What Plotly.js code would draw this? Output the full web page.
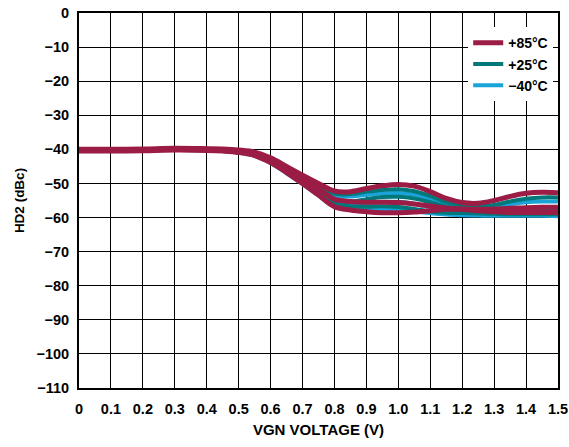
<!DOCTYPE html>
<html><head><meta charset="utf-8">
<script src="https://cdn.plot.ly/plotly-3.0.1.min.js"></script>
<style>body{margin:0;padding:0;background:#fff}#chart{width:569px;height:447px}</style>
</head><body><div id="chart"></div>
<script>
var xv = [0,0.1,0.2,0.3,0.4,0.45,0.5,0.55,0.6,0.65,0.7,0.75,0.8,0.85,0.9,0.95,1.0,1.05,1.1,1.15,1.2,1.25,1.3,1.35,1.4,1.45,1.5];
var red1  = [-40.0,-40.0,-39.9,-39.7,-39.8,-39.9,-40.2,-40.8,-42.5,-45.0,-47.6,-50.0,-52.2,-52.4,-51.5,-50.7,-50.3,-50.8,-52.4,-54.4,-55.6,-55.8,-55.0,-53.8,-52.9,-52.6,-52.7];
var teal1 = [-40.1,-40.1,-40.0,-39.8,-39.9,-40.0,-40.3,-41.0,-42.7,-45.3,-48.0,-50.6,-53.0,-53.1,-52.4,-51.9,-51.7,-52.3,-53.7,-55.5,-56.5,-56.7,-56.3,-55.3,-54.5,-54.1,-54.1];
var cyan1 = [-40.1,-40.1,-40.0,-39.8,-39.9,-40.0,-40.4,-41.1,-42.9,-45.5,-48.3,-51.0,-53.6,-53.8,-53.3,-52.9,-52.8,-53.3,-54.7,-56.3,-57.2,-57.3,-56.9,-56.1,-55.5,-55.3,-55.3];
var red2  = [-40.2,-40.2,-40.1,-39.9,-40.0,-40.1,-40.5,-41.3,-43.1,-45.8,-48.7,-51.6,-54.6,-55.3,-55.5,-55.5,-55.6,-56.0,-56.6,-57.2,-57.5,-57.6,-57.5,-57.3,-57.1,-57.0,-57.0];
var teal2 = [-40.3,-40.3,-40.2,-40.0,-40.1,-40.2,-40.6,-41.4,-43.3,-46.0,-49.0,-52.0,-55.1,-55.3,-54.6,-54.0,-53.9,-54.4,-55.5,-56.8,-57.6,-57.8,-57.7,-57.5,-57.4,-57.4,-57.4];
var cyan2 = [-40.3,-40.3,-40.2,-40.0,-40.1,-40.3,-40.7,-41.5,-43.5,-46.2,-49.3,-52.4,-55.6,-56.1,-55.8,-55.4,-55.4,-56.0,-57.0,-58.0,-58.5,-58.6,-58.5,-58.4,-58.3,-58.3,-58.3];
var teal3 = [-40.4,-40.4,-40.3,-40.1,-40.2,-40.4,-40.8,-41.7,-43.7,-46.5,-49.6,-52.8,-56.0,-56.7,-56.8,-56.7,-56.9,-57.5,-58.2,-58.6,-58.7,-58.8,-58.9,-59.0,-59.0,-59.0,-59.0];
var red3  = [-40.5,-40.5,-40.4,-40.2,-40.3,-40.5,-40.9,-41.8,-43.9,-46.8,-50.0,-53.4,-56.8,-57.8,-58.3,-58.6,-58.6,-58.4,-58.0,-57.6,-57.6,-58.0,-58.3,-58.5,-58.5,-58.5,-58.5];
var cyan3 = [-40.5,-40.5,-40.4,-40.2,-40.3,-40.5,-41.0,-41.9,-44.0,-47.0,-50.2,-53.5,-56.7,-57.4,-57.6,-57.6,-57.8,-58.2,-58.7,-59.1,-59.3,-59.4,-59.5,-59.5,-59.5,-59.5,-59.6];
var xTicks = [0,0.1,0.2,0.3,0.4,0.5,0.6,0.7,0.8,0.9,1.0,1.1,1.2,1.3,1.4,1.5];
var xTickText = ['0','0.1','0.2','0.3','0.4','0.5','0.6','0.7','0.8','0.9','1.0','1.1','1.2','1.3','1.4','1.5'];
var yTicks = [0,-10,-20,-30,-40,-50,-60,-70,-80,-90,-100,-110];
var yTickText = ['0','\u221210','\u221220','\u221230','\u221240','\u221250','\u221260','\u221270','\u221280','\u221290','\u2212100','\u2212110'];

var RED='#9B1C45', TEAL='#00787A', CYAN='#1AA3D8';
function tr(y,color,name,show,rank,w){
  return {x:xv,y:y,mode:'lines',line:{color:color,width:w,shape:'spline',smoothing:1},
    name:name,showlegend:show,legendrank:rank,hoverinfo:'skip'};
}
var data = [
  tr(cyan1,CYAN,'<b>\u221240\u00B0C</b>',true,3,4), tr(cyan2,CYAN,'',false,3,4), tr(cyan3,CYAN,'',false,3,4),
  tr(teal1,TEAL,'<b>+25\u00B0C</b>',true,2,4), tr(teal2,TEAL,'',false,2,4), tr(teal3,TEAL,'',false,2,4),
  tr(red1,RED,'<b>+85\u00B0C</b>',true,1,5), tr(red2,RED,'',false,1,5), tr(red3,RED,'',false,1,5)
];
function B(a){return a.map(function(s){return '<b>'+s+'</b>';});}
var FAM = 'Liberation Sans, Arial, sans-serif';
var TF = {family:FAM, size:14.5, color:'#000', weight:700};
var layout = {
  width:569, height:447,
  margin:{l:79, r:11, t:13, b:59},
  paper_bgcolor:'#fff', plot_bgcolor:'#fff',
  font:{family:FAM, size:14, color:'#000'},
  showlegend:true,
  legend:{x:0.99, y:0.962, xanchor:'right', yanchor:'top', bgcolor:'#fff', borderwidth:0,
    font:{family:FAM, size:14, color:'#000', weight:700},
    itemwidth:30, tracegroupgap:0, traceorder:'normal'},
  xaxis:{range:[0,1.5], tickvals:xTicks, ticktext:B(xTickText), showgrid:true, gridcolor:'#000', gridwidth:1,
    zeroline:false, showline:true, linecolor:'#000', linewidth:2, mirror:true, ticks:'', ticklen:0,
    ticklabelstandoff:7,
    tickfont:TF, title:{text:'<b>VGN VOLTAGE (V)</b>', font:{family:FAM, size:15, color:'#000', weight:700}, standoff:8}},
  yaxis:{range:[-110,0], tickvals:yTicks, ticktext:B(yTickText), showgrid:true, gridcolor:'#000', gridwidth:1,
    zeroline:false, showline:true, linecolor:'#000', linewidth:2, mirror:true, ticks:'', ticklen:0,
    ticklabelstandoff:5,
    tickfont:TF, title:{text:'<b>HD2 (dBc)</b>', font:{family:FAM, size:13.5, color:'#000', weight:700}, standoff:9}}
};
Plotly.newPlot('chart', data, layout, {displayModeBar:false, staticPlot:true});
</script></body></html>
